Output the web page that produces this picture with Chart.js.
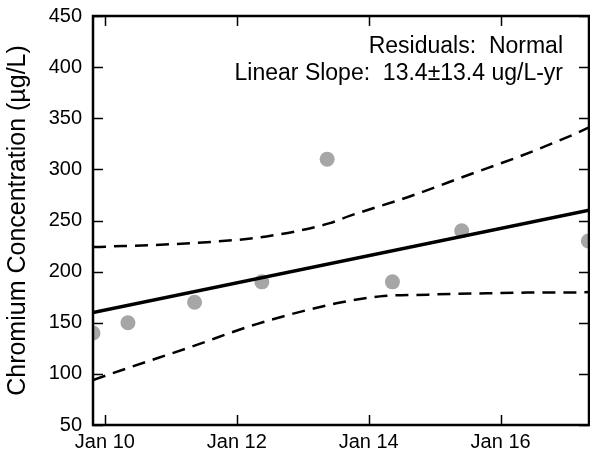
<!DOCTYPE html>
<html>
<head>
<meta charset="utf-8">
<script src="https://cdn.jsdelivr.net/npm/chart.js@4"></script>
<style>
    html, body { margin: 0; padding: 0; background: #fff; overflow: hidden; }
</style>
</head>
<body>
<canvas id="chromium-chart" width="590" height="459"></canvas>
<script>
// Sample dates as decimal years, concentrations in ug/L
const sampleDates = [2009.82, 2010.35, 2011.36, 2012.38, 2013.37, 2014.36, 2015.41, 2017.33];
const sampleValues = [140, 150, 170, 190, 310, 190, 240, 230];

// Linear trend end points
const trendDates = [2009.82, 2017.34];
const trendValues = [160, 260];

// Confidence band
const upperDates = [2009.82, 2009.92, 2011.48, 2012.45, 2013.41, 2013.71, 2014.6, 2015.53, 2016.3, 2017.05, 2017.34];
const upperValues = [224, 224.2, 228.5, 234.4, 247.4, 254.5, 273, 295, 313, 332.6, 341];
const lowerDates = [2009.82, 2010.38, 2011.29, 2012.3, 2013.51, 2014.17, 2014.9, 2015.68, 2016.4, 2017.15, 2017.34];
const lowerValues = [94, 106.4, 126, 148.7, 169, 175.8, 177.5, 178.7, 179.5, 179.7, 180];

const tickYears = [2010, 2012, 2014, 2016];
const tickLabels = ["Jan 10", "Jan 12", "Jan 14", "Jan 16"];

const annotationLines = ["Residuals:  Normal", "Linear Slope:  13.4\u00b113.4 ug/L-yr"];

const FONT = "'Liberation Sans', Arial, Helvetica, sans-serif";

function toPoints(xs, ys) {
    return xs.map((x, i) => ({ x: x, y: ys[i] }));
}

// frame, inward ticks on all sides, and the text box
const framePlugin = {
    id: "frame",
    afterDraw(chart) {
        const ctx = chart.ctx;
        const a = chart.chartArea;
        const xs = chart.scales.x;
        const ys = chart.scales.y;
        const tl = 10;
        ctx.save();
        ctx.strokeStyle = "#000";
        ctx.lineWidth = 1.5;
        ctx.beginPath();
        ys.ticks.forEach((t) => {
            const y = Math.round(ys.getPixelForValue(t.value)) + 0.5;
            ctx.moveTo(a.left, y);
            ctx.lineTo(a.left + tl, y);
            ctx.moveTo(a.right, y);
            ctx.lineTo(a.right - tl, y);
        });
        xs.ticks.forEach((t) => {
            const x = Math.round(xs.getPixelForValue(t.value)) + 0.5;
            ctx.moveTo(x, a.bottom);
            ctx.lineTo(x, a.bottom - tl);
            ctx.moveTo(x, a.top);
            ctx.lineTo(x, a.top + tl);
        });
        ctx.stroke();

        ctx.lineWidth = 2.5;
        ctx.strokeRect(a.left, a.top, a.right - a.left, a.bottom - a.top);

        ctx.fillStyle = "#000";
        ctx.font = "23px " + FONT;
        ctx.textAlign = "right";
        ctx.textBaseline = "alphabetic";
        ctx.fillText(annotationLines[0], a.right - 26, a.top + 37);
        ctx.fillText(annotationLines[1], a.right - 26, a.top + 63.5);
        ctx.restore();
    },
};

const ctx = document.getElementById("chromium-chart").getContext("2d");
new Chart(ctx, {
    type: "scatter",
    data: {
        datasets: [
            {
                label: "Samples",
                data: toPoints(sampleDates, sampleValues),
                backgroundColor: "#a6a6a6",
                borderColor: "#a6a6a6",
                pointRadius: 7.5,
                pointBorderWidth: 0,
                clip: 0,
                order: 3,
            },
            {
                label: "Trend",
                type: "line",
                data: toPoints(trendDates, trendValues),
                borderColor: "#000",
                borderWidth: 3.5,
                pointRadius: 0,
                fill: false,
                clip: 0,
                order: 1,
            },
            {
                label: "Upper",
                type: "line",
                data: toPoints(upperDates, upperValues),
                borderColor: "#000",
                borderWidth: 2.5,
                borderDash: [13, 8],
                cubicInterpolationMode: "monotone",
                pointRadius: 0,
                fill: false,
                clip: 0,
                order: 2,
            },
            {
                label: "Lower",
                type: "line",
                data: toPoints(lowerDates, lowerValues),
                borderColor: "#000",
                borderWidth: 2.5,
                borderDash: [13, 8],
                cubicInterpolationMode: "monotone",
                pointRadius: 0,
                fill: false,
                clip: 0,
                order: 2,
            },
        ],
    },
    options: {
        responsive: false,
        animation: false,
        layout: {
            autoPadding: false,
            padding: { top: 16, right: 1, left: 0, bottom: 0 },
        },
        plugins: {
            legend: { display: false },
            tooltip: { enabled: false },
        },
        scales: {
            x: {
                type: "linear",
                min: 2009.82,
                max: 2017.34,
                afterBuildTicks: (scale) => {
                    scale.ticks = tickYears.map((v) => ({ value: v }));
                },
                afterFit: (scale) => {
                    scale.height = 34;
                    scale.paddingLeft = 0;
                    scale.paddingRight = 0;
                },
                ticks: {
                    font: { size: 20, family: FONT },
                    color: "#000",
                    padding: 5,
                    maxRotation: 0,
                    autoSkip: false,
                    callback: (value) => {
                        const i = tickYears.indexOf(value);
                        return i >= 0 ? tickLabels[i] : "";
                    },
                },
                grid: { display: false, drawTicks: false },
                border: { display: false },
            },
            y: {
                min: 50,
                max: 450,
                afterFit: (scale) => {
                    scale.width = 93;
                    scale.paddingTop = 0;
                    scale.paddingBottom = 0;
                },
                ticks: {
                    stepSize: 50,
                    font: { size: 20, family: FONT },
                    color: "#000",
                    padding: 11,
                },
                title: {
                    display: true,
                    text: "Chromium Concentration (\u00b5g/L)",
                    font: { size: 25, family: FONT },
                    color: "#000",
                    padding: { top: 3, bottom: 0 },
                },
                grid: { display: false, drawTicks: false },
                border: { display: false },
            },
        },
    },
    plugins: [framePlugin],
});
</script>
</body>
</html>
